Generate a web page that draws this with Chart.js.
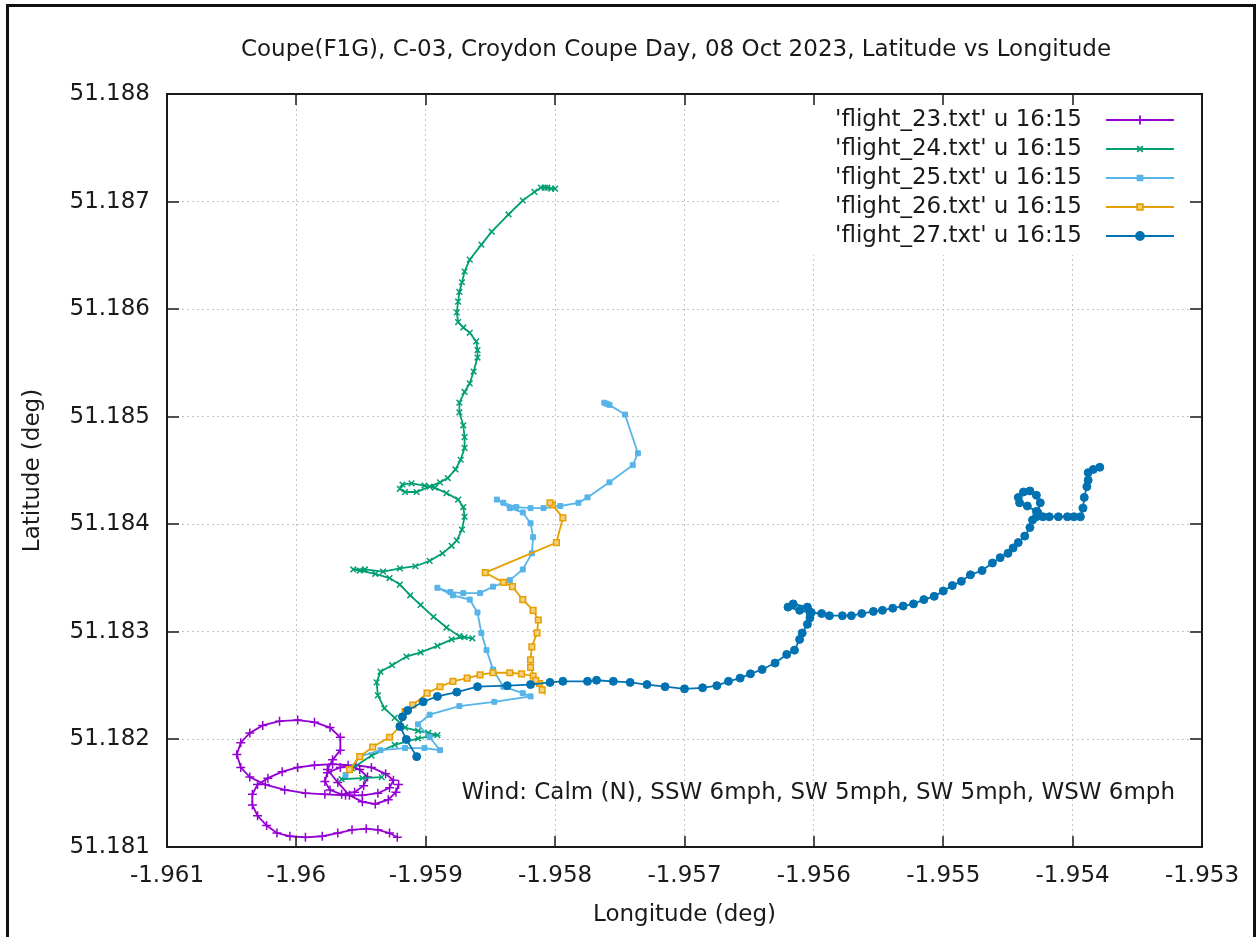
<!DOCTYPE html>
<html>
<head>
<meta charset="utf-8">
<title>Latitude vs Longitude</title>
<script src="https://cdn.jsdelivr.net/npm/chart.js@4.4.0/dist/chart.umd.min.js"></script>
<style>
  html, body { margin: 0; padding: 0; background: #fff; overflow: hidden; }
  #frame { position: absolute; left: 6px; top: 4px; width: 1244px; height: 960px; border: 3px solid #111; border-bottom: none; }
  #chart { position: absolute; left: 0; top: 0; }
</style>
</head>
<body>
<div id="frame"></div>
<canvas id="chart" width="1256" height="937"></canvas>
<script>
const chartTitle = "Coupe(F1G), C-03, Croydon Coupe Day, 08 Oct 2023, Latitude vs Longitude";
const windNote = "Wind: Calm (N), SSW 6mph, SW 5mph, SW 5mph, WSW 6mph";

const xTicks = [-1.961, -1.960, -1.959, -1.958, -1.957, -1.956, -1.955, -1.954, -1.953];
const xTickLabels = ["-1.961", "-1.96", "-1.959", "-1.958", "-1.957", "-1.956", "-1.955", "-1.954", "-1.953"];
const yTicks = [51.181, 51.182, 51.183, 51.184, 51.185, 51.186, 51.187, 51.188];
const yTickLabels = ["51.181", "51.182", "51.183", "51.184", "51.185", "51.186", "51.187", "51.188"];

const flightNames = [
  "'flight_23.txt' u 16:15",
  "'flight_24.txt' u 16:15",
  "'flight_25.txt' u 16:15",
  "'flight_26.txt' u 16:15",
  "'flight_27.txt' u 16:15",
];

// flight 23
const lon23 = [-1.95922,-1.95928,-1.95937,-1.95946,-1.95957,-1.95968,-1.95980,-1.95993,-1.96005,-1.96015,-1.96023,-1.96030,-1.96034,-1.96034,-1.96030,-1.96022,-1.96011,-1.95999,-1.95986,-1.95972,-1.95960,-1.95951,-1.95945,-1.95948,-1.95955,-1.95965,-1.95974,-1.95978,-1.95976,-1.95966,-1.95954,-1.95942,-1.95931,-1.95925,-1.95928,-1.95937,-1.95949,-1.95962,-1.95978,-1.95993,-1.96009,-1.96024,-1.96036,-1.96043,-1.96046,-1.96043,-1.96036,-1.96026,-1.96013,-1.95999,-1.95986,-1.95974,-1.95966,-1.95966,-1.95972,-1.95976,-1.95968,-1.95959,-1.95949,-1.95939,-1.95929,-1.95923,-1.95921];
const lat23 = [51.18109,51.18113,51.18116,51.18117,51.18116,51.18113,51.18110,51.18109,51.18110,51.18113,51.18120,51.18129,51.18139,51.18149,51.18158,51.18164,51.18170,51.18174,51.18176,51.18177,51.18176,51.18172,51.18165,51.18157,51.18151,51.18149,51.18153,51.18161,51.18169,51.18174,51.18176,51.18174,51.18168,51.18162,51.18155,51.18150,51.18148,51.18148,51.18149,51.18150,51.18153,51.18158,51.18165,51.18174,51.18186,51.18197,51.18206,51.18213,51.18217,51.18218,51.18216,51.18211,51.18202,51.18190,51.18181,51.18172,51.18160,51.18148,51.18142,51.18140,51.18144,51.18151,51.18158];

// flight 24
const lon24 = [-1.95934,-1.95949,-1.95965,-1.95957,-1.95942,-1.95924,-1.95906,-1.95891,-1.95898,-1.95906,-1.95916,-1.95924,-1.95932,-1.95937,-1.95938,-1.95935,-1.95926,-1.95915,-1.95904,-1.95891,-1.95880,-1.95870,-1.95864,-1.95874,-1.95884,-1.95894,-1.95904,-1.95912,-1.95920,-1.95928,-1.95939,-1.95951,-1.95956,-1.95947,-1.95933,-1.95920,-1.95908,-1.95897,-1.95887,-1.95880,-1.95876,-1.95872,-1.95870,-1.95871,-1.95875,-1.95884,-1.95893,-1.95901,-1.95911,-1.95918,-1.95920,-1.95916,-1.95907,-1.95897,-1.95889,-1.95883,-1.95877,-1.95873,-1.95870,-1.95870,-1.95871,-1.95874,-1.95874,-1.95870,-1.95866,-1.95863,-1.95860,-1.95860,-1.95861,-1.95866,-1.95871,-1.95875,-1.95876,-1.95875,-1.95874,-1.95872,-1.95870,-1.95866,-1.95857,-1.95849,-1.95836,-1.95825,-1.95816,-1.95811,-1.95808,-1.95806,-1.95803,-1.95800];
const lat24 = [51.18165,51.18164,51.18163,51.18173,51.18185,51.18195,51.18201,51.18204,51.18206,51.18208,51.18211,51.18220,51.18229,51.18241,51.18253,51.18263,51.18269,51.18277,51.18281,51.18287,51.18293,51.18295,51.18294,51.18296,51.18304,51.18314,51.18325,51.18334,51.18344,51.18350,51.18354,51.18357,51.18358,51.18358,51.18356,51.18359,51.18361,51.18366,51.18373,51.18380,51.18385,51.18395,51.18407,51.18416,51.18423,51.18429,51.18434,51.18436,51.18438,51.18437,51.18433,51.18430,51.18430,51.18435,51.18439,51.18443,51.18451,51.18460,51.18471,51.18481,51.18492,51.18504,51.18513,51.18523,51.18531,51.18542,51.18555,51.18562,51.18570,51.18578,51.18583,51.18588,51.18597,51.18607,51.18616,51.18625,51.18635,51.18646,51.18660,51.18672,51.18688,51.18701,51.18709,51.18713,51.18713,51.18713,51.18712,51.18712];

// flight 25
const lon25 = [-1.95962,-1.95951,-1.95935,-1.95916,-1.95901,-1.95889,-1.95897,-1.95906,-1.95897,-1.95874,-1.95847,-1.95819,-1.95825,-1.95840,-1.95848,-1.95853,-1.95857,-1.95860,-1.95866,-1.95879,-1.95891,-1.95881,-1.95871,-1.95858,-1.95848,-1.95835,-1.95825,-1.95818,-1.95817,-1.95819,-1.95825,-1.95835,-1.95845,-1.95840,-1.95830,-1.95819,-1.95809,-1.95796,-1.95782,-1.95775,-1.95758,-1.95740,-1.95736,-1.95746,-1.95758,-1.95760,-1.95762];
const lat25 = [51.18167,51.18184,51.18190,51.18192,51.18192,51.18190,51.18202,51.18214,51.18223,51.18231,51.18235,51.18240,51.18243,51.18249,51.18265,51.18283,51.18299,51.18318,51.18330,51.18334,51.18341,51.18337,51.18336,51.18336,51.18342,51.18348,51.18358,51.18373,51.18388,51.18401,51.18411,51.18415,51.18423,51.18420,51.18416,51.18415,51.18415,51.18417,51.18420,51.18425,51.18439,51.18455,51.18466,51.18502,51.18511,51.18512,51.18513];

// flight 26
const lon26 = [-1.95959,-1.95951,-1.95941,-1.95928,-1.95920,-1.95916,-1.95910,-1.95899,-1.95889,-1.95879,-1.95868,-1.95858,-1.95848,-1.95835,-1.95826,-1.95817,-1.95812,-1.95810,-1.95815,-1.95819,-1.95819,-1.95818,-1.95814,-1.95813,-1.95817,-1.95825,-1.95833,-1.95840,-1.95854,-1.95799,-1.95794,-1.95802,-1.95804];
const lat26 = [51.18172,51.18184,51.18193,51.18202,51.18212,51.18226,51.18232,51.18243,51.18249,51.18254,51.18257,51.18260,51.18262,51.18262,51.18261,51.18259,51.18252,51.18246,51.18255,51.18267,51.18274,51.18286,51.18299,51.18311,51.18320,51.18330,51.18342,51.18346,51.18355,51.18383,51.18406,51.18418,51.18420];

// flight 27
const lon27 = [-1.95907,-1.95915,-1.95920,-1.95918,-1.95914,-1.95902,-1.95891,-1.95876,-1.95860,-1.95837,-1.95819,-1.95804,-1.95794,-1.95775,-1.95768,-1.95755,-1.95742,-1.95729,-1.95715,-1.95700,-1.95686,-1.95675,-1.95666,-1.95657,-1.95649,-1.95640,-1.95630,-1.95621,-1.95615,-1.95611,-1.95609,-1.95605,-1.95603,-1.95602,-1.95605,-1.95616,-1.95620,-1.95611,-1.95603,-1.95594,-1.95588,-1.95578,-1.95571,-1.95563,-1.95554,-1.95547,-1.95539,-1.95531,-1.95523,-1.95515,-1.95507,-1.95500,-1.95493,-1.95486,-1.95479,-1.95470,-1.95462,-1.95456,-1.95450,-1.95446,-1.95442,-1.95437,-1.95433,-1.95431,-1.95428,-1.95435,-1.95441,-1.95442,-1.95438,-1.95433,-1.95428,-1.95425,-1.95427,-1.95428,-1.95423,-1.95418,-1.95411,-1.95404,-1.95399,-1.95394,-1.95392,-1.95391,-1.95389,-1.95388,-1.95388,-1.95384,-1.95379];
const lat27 = [51.18184,51.18200,51.18212,51.18221,51.18227,51.18235,51.18240,51.18244,51.18249,51.18250,51.18251,51.18253,51.18254,51.18254,51.18255,51.18254,51.18253,51.18251,51.18249,51.18247,51.18248,51.18250,51.18254,51.18257,51.18261,51.18265,51.18271,51.18279,51.18283,51.18293,51.18299,51.18307,51.18313,51.18318,51.18323,51.18326,51.18323,51.18320,51.18318,51.18317,51.18315,51.18315,51.18315,51.18317,51.18319,51.18320,51.18322,51.18324,51.18326,51.18330,51.18333,51.18338,51.18343,51.18347,51.18353,51.18357,51.18364,51.18369,51.18373,51.18378,51.18383,51.18389,51.18397,51.18404,51.18412,51.18417,51.18420,51.18425,51.18430,51.18431,51.18427,51.18420,51.18411,51.18407,51.18407,51.18407,51.18407,51.18407,51.18407,51.18407,51.18415,51.18425,51.18435,51.18441,51.18448,51.18451,51.18453];

const TEXT = "#1a1a1a";
const FONT = '"DejaVu Sans", "Liberation Sans", sans-serif';

function track(lons, lats) {
  return lons.map((x, i) => ({ x, y: lats[i] }));
}

function flightDataset(i, lons, lats, color, style) {
  return {
    label: flightNames[i],
    data: track(lons, lats),
    showLine: true,
    borderColor: color,
    borderWidth: 1.8,
    pointBorderColor: color,
    pointBackgroundColor: style.fill || color,
    pointStyle: style.shape,
    pointRadius: style.radius,
    pointBorderWidth: style.lineWidth,
    tension: 0,
    order: 4 - i, // later files drawn on top, like gnuplot
  };
}

// draws the gnuplot-like frame, inward ticks, key, title and the wind note
const gnuplotLook = {
  id: "gnuplotLook",
  beforeDatasetsDraw(chart) {
    const { ctx, chartArea: a } = chart;
    ctx.save();
    ctx.fillStyle = "#ffffff";
    ctx.fillRect(a.right - 422, a.top + 1, 421, 160);
    ctx.restore();
  },
  afterDraw(chart) {
    const { ctx, chartArea: a, scales } = chart;
    ctx.save();

    ctx.strokeStyle = TEXT;
    ctx.lineWidth = 2;
    ctx.strokeRect(a.left, a.top, a.right - a.left, a.bottom - a.top);

    ctx.lineWidth = 1.5;
    ctx.beginPath();
    scales.x.ticks.forEach(t => {
      const x = Math.round(scales.x.getPixelForValue(t.value));
      ctx.moveTo(x, a.bottom); ctx.lineTo(x, a.bottom - 11);
      ctx.moveTo(x, a.top); ctx.lineTo(x, a.top + 11);
    });
    scales.y.ticks.forEach(t => {
      const y = Math.round(scales.y.getPixelForValue(t.value));
      ctx.moveTo(a.left, y); ctx.lineTo(a.left + 12, y);
      ctx.moveTo(a.right, y); ctx.lineTo(a.right - 12, y);
    });
    ctx.stroke();

    ctx.fillStyle = TEXT;
    ctx.textBaseline = "middle";
    ctx.textAlign = "center";
    ctx.font = "23px " + FONT;
    ctx.fillText(chartTitle, 676, 50);

    ctx.font = "23px " + FONT;
    ctx.textAlign = "right";
    ctx.fillText(windNote, a.right - 27, a.bottom - 54);

    chart.data.datasets.forEach((ds, i) => {
      const y = a.top + 26 + i * 29;
      ctx.fillStyle = TEXT;
      ctx.fillText(ds.label, a.right - 120, y);
      ctx.strokeStyle = ds.borderColor;
      ctx.lineWidth = ds.borderWidth;
      ctx.beginPath();
      ctx.moveTo(a.right - 96, y);
      ctx.lineTo(a.right - 28, y);
      ctx.stroke();
      ctx.fillStyle = ds.pointBackgroundColor;
      Chart.helpers.drawPoint(ctx, {
        pointStyle: ds.pointStyle,
        radius: ds.pointRadius,
        borderWidth: ds.pointBorderWidth,
        rotation: 0,
      }, a.right - 62, y);
    });

    ctx.restore();
  },
};

const canvas = document.getElementById("chart");

new Chart(canvas, {
  type: "scatter",
  data: {
    datasets: [
      flightDataset(0, lon23, lat23, "#9400d3", { shape: "cross", radius: 4.5, lineWidth: 1.5 }),
      flightDataset(1, lon24, lat24, "#009e73", { shape: "crossRot", radius: 4, lineWidth: 1.5 }),
      flightDataset(2, lon25, lat25, "#56b4e9", { shape: "rect", radius: 3.5, lineWidth: 1 }),
      flightDataset(3, lon26, lat26, "#e69f00", { shape: "rect", radius: 4, lineWidth: 1.5, fill: "#f3cf80" }),
      flightDataset(4, lon27, lat27, "#0072b2", { shape: "circle", radius: 4, lineWidth: 1 }),
    ],
  },
  options: {
    responsive: false,
    animation: false,
    events: [],
    layout: {
      padding: { top: 94, right: 54, left: 0, bottom: 0 },
    },
    plugins: {
      legend: { display: false },
      title: { display: false },
      tooltip: { enabled: false },
    },
    scales: {
      x: {
        type: "linear",
        min: -1.961,
        max: -1.953,
        afterBuildTicks: scale => { scale.ticks = xTicks.map(v => ({ value: v })); },
        afterFit: scale => { scale.height = 90; },
        ticks: {
          padding: 15,
          color: TEXT,
          font: { family: FONT, size: 23 },
          maxRotation: 0,
          autoSkip: false,
          callback: (value, index) => xTickLabels[index],
        },
        grid: { color: "#c4c4c4", lineWidth: 1, drawTicks: false },
        border: { display: false, dash: [2, 3] },
        title: {
          display: true,
          text: "Longitude (deg)",
          color: TEXT,
          font: { family: FONT, size: 23 },
          padding: { top: 0, bottom: 8 },
        },
      },
      y: {
        type: "linear",
        min: 51.181,
        max: 51.188,
        afterBuildTicks: scale => { scale.ticks = yTicks.map(v => ({ value: v })); },
        afterFit: scale => { scale.width = 167; },
        ticks: {
          padding: 17,
          color: TEXT,
          font: { family: FONT, size: 23 },
          autoSkip: false,
          callback: (value, index) => yTickLabels[index],
        },
        grid: { color: "#c4c4c4", lineWidth: 1, drawTicks: false },
        border: { display: false, dash: [2, 3] },
        title: {
          display: true,
          text: "Latitude (deg)",
          color: TEXT,
          font: { family: FONT, size: 23 },
          padding: { top: 19, bottom: 0 },
        },
      },
    },
  },
  plugins: [gnuplotLook],
});
</script>
</body>
</html>
